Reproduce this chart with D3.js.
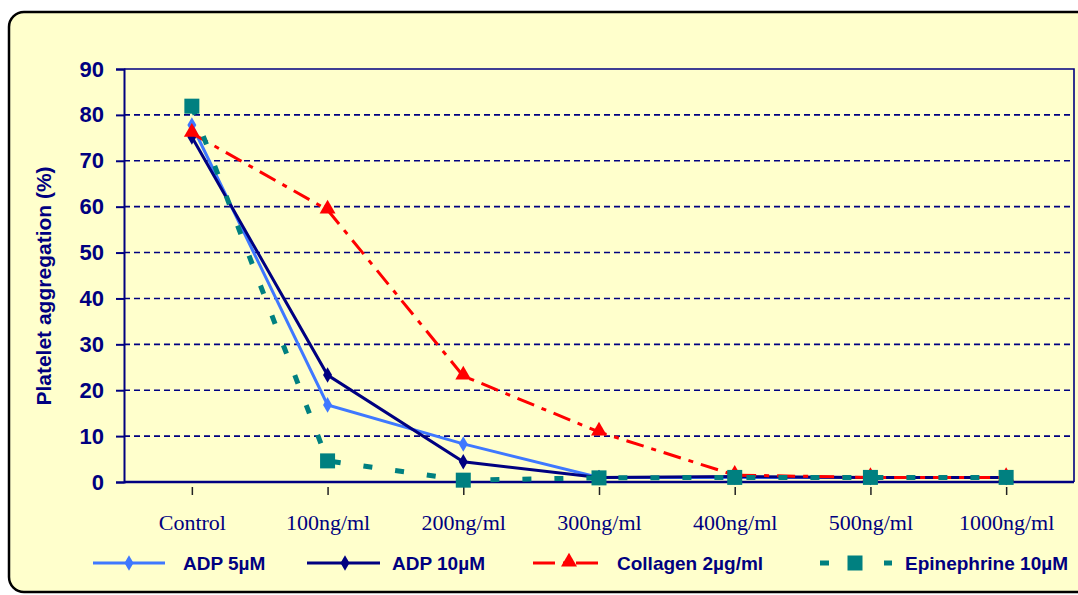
<!DOCTYPE html>
<html>
<head>
<meta charset="utf-8">
<script src="https://cdn.jsdelivr.net/npm/d3@7"></script>
<style>
  body { margin: 0; background: #ffffff; }
  svg { display: block; }
</style>
</head>
<body>
<div id="chart"></div>
<script>
// chart values
var categories = ["Control", "100ng/ml", "200ng/ml", "300ng/ml", "400ng/ml", "500ng/ml", "1000ng/ml"];
var yTicks = [0, 10, 20, 30, 40, 50, 60, 70, 80, 90];
var adp5 = [77.8, 16.8, 8.3, 1.0, 1.0, 1.0, 1.0];
var adp10 = [75.2, 23.3, 4.4, 1.0, 1.2, 1.0, 1.0];
var collagen = [76.0, 59.3, 23.1, 10.9, 1.5, 1.0, 1.0];
var epinephrine = [81.9, 4.6, 0.4, 0.9, 1.0, 1.0, 1.0];

var seriesNames = ["ADP 5\u00b5M", "ADP 10\u00b5M", "Collagen 2\u00b5g/ml", "Epinephrine 10\u00b5M"];

var width = 1078;
var height = 595;
var navy = "#000080";

var svg = d3.select("#chart")
    .append("svg")
    .attr("width", width)
    .attr("height", height);

// yellow frame with rounded corners
svg.append("rect")
    .attr("x", 9)
    .attr("y", 12)
    .attr("width", 1100)
    .attr("height", 580)
    .attr("rx", 15)
    .style("fill", "#ffffcc")
    .style("stroke", "#000")
    .style("stroke-width", 2.5);

var x = d3.scalePoint()
    .domain(categories)
    .range([124, 1074])
    .padding(0.5);

var y = d3.scaleLinear()
    .domain([0, 90])
    .range([482, 69]);

// grid
svg.append("g")
    .selectAll("line")
    .data(yTicks.filter(function(d) { return d > 0 && d < 90; }))
    .enter()
    .append("line")
    .attr("x1", 124)
    .attr("x2", 1074)
    .attr("y1", function(d) { return y(d); })
    .attr("y2", function(d) { return y(d); })
    .style("stroke", navy)
    .style("stroke-width", 1.6)
    .style("stroke-dasharray", "6,4");

// plot border (top, right)
svg.append("path")
    .attr("d", "M124," + y(90) + "H1074V" + y(0))
    .style("fill", "none")
    .style("stroke", navy)
    .style("stroke-width", 1.6);

// y axis
var yAxis = svg.append("g")
    .attr("transform", "translate(124,0)")
    .call(d3.axisLeft(y).tickValues(yTicks).tickSize(8).tickPadding(12));

yAxis.select(".domain").style("stroke", navy).style("stroke-width", 2);
yAxis.selectAll(".tick line").style("stroke", navy).style("stroke-width", 2);
yAxis.selectAll(".tick text")
    .style("fill", navy)
    .style("font-family", "'Liberation Sans', Arial, sans-serif")
    .style("font-weight", "bold")
    .style("font-size", "22px");

// x axis line
svg.append("line")
    .attr("x1", 124)
    .attr("x2", 1074)
    .attr("y1", y(0))
    .attr("y2", y(0))
    .style("stroke", navy)
    .style("stroke-width", 2.5);

// x axis ticks and labels (ticks sit just below the axis line)
var xAxis = svg.append("g")
    .attr("transform", "translate(0,487)")
    .call(d3.axisBottom(x).tickSize(8).tickPadding(19));

xAxis.select(".domain").remove();
xAxis.selectAll(".tick line").style("stroke", "#222").style("stroke-width", 1.5);
xAxis.selectAll(".tick text")
    .style("fill", navy)
    .style("font-family", "'Liberation Serif', 'Times New Roman', serif")
    .style("font-size", "22px");

// y title
svg.append("text")
    .attr("transform", "translate(51,286) rotate(-90)")
    .attr("text-anchor", "middle")
    .style("fill", navy)
    .style("font-family", "'Liberation Sans', Arial, sans-serif")
    .style("font-weight", "bold")
    .style("font-size", "21px")
    .text("Platelet aggregation (%)");

var line = d3.line()
    .x(function(d, i) { return x(categories[i]); })
    .y(function(d) { return y(d); });

var diamond = d3.symbol().type(d3.symbolDiamond).size(70);
var triangle = d3.symbol().type(d3.symbolTriangle).size(110);

function drawSeries(values, color, widthPx, dash, marker, markerColor) {
    svg.append("path")
        .datum(values)
        .attr("d", line)
        .style("fill", "none")
        .style("stroke", color)
        .style("stroke-width", widthPx)
        .style("stroke-dasharray", dash);

    var g = svg.append("g");
    values.forEach(function(v, i) {
        drawMarker(g, marker, x(categories[i]), y(v), markerColor);
    });
}

function drawMarker(g, marker, cx, cy, color) {
    if (marker === "square") {
        g.append("rect")
            .attr("x", cx - 7.5)
            .attr("y", cy - 7.5)
            .attr("width", 15)
            .attr("height", 15)
            .style("fill", color);
    } else if (marker === "triangle") {
        g.append("path")
            .attr("d", triangle())
            .attr("transform", "translate(" + cx + "," + (cy - 1) + ")")
            .style("fill", color);
    } else {
        g.append("path")
            .attr("d", diamond())
            .attr("transform", "translate(" + cx + "," + cy + ")")
            .style("fill", color);
    }
}

drawSeries(adp5, "#3f78ff", 3, null, "diamond", "#3f78ff");
drawSeries(adp10, "#000080", 3, null, "diamond", "#000080");
drawSeries(collagen, "#ff0000", 3, "18,8,5,8", "triangle", "#ff0000");
drawSeries(epinephrine, "#008080", 5, "9,23", "square", "#008080");

// legend
var legendY = 563;
var legendItems = [
    {x1: 93, x2: 165, mx: 129, tx: 183, color: "#3f78ff", w: 3, dash: null, marker: "diamond"},
    {x1: 307, x2: 380, mx: 345, tx: 392, color: "#000080", w: 3, dash: null, marker: "diamond"},
    {x1: 533, x2: 603, mx: 569, tx: 617, color: "#ff0000", w: 3, dash: "22,8,5,8", marker: "triangle"},
    {x1: 820, x2: 892, mx: 855, tx: 905, color: "#008080", w: 5, dash: "9,23", marker: "square"}
];

var legend = svg.append("g");
legendItems.forEach(function(d, i) {
    legend.append("line")
        .attr("x1", d.x1)
        .attr("x2", d.x2)
        .attr("y1", legendY)
        .attr("y2", legendY)
        .style("stroke", d.color)
        .style("stroke-width", d.w)
        .style("stroke-dasharray", d.dash);
    drawMarker(legend, d.marker, d.mx, legendY, d.color);
    legend.append("text")
        .attr("x", d.tx)
        .attr("y", legendY + 7)
        .style("fill", navy)
        .style("font-family", "'Liberation Sans', Arial, sans-serif")
        .style("font-weight", "bold")
        .style("font-size", "19px")
        .text(seriesNames[i]);
});
</script>
</body>
</html>
